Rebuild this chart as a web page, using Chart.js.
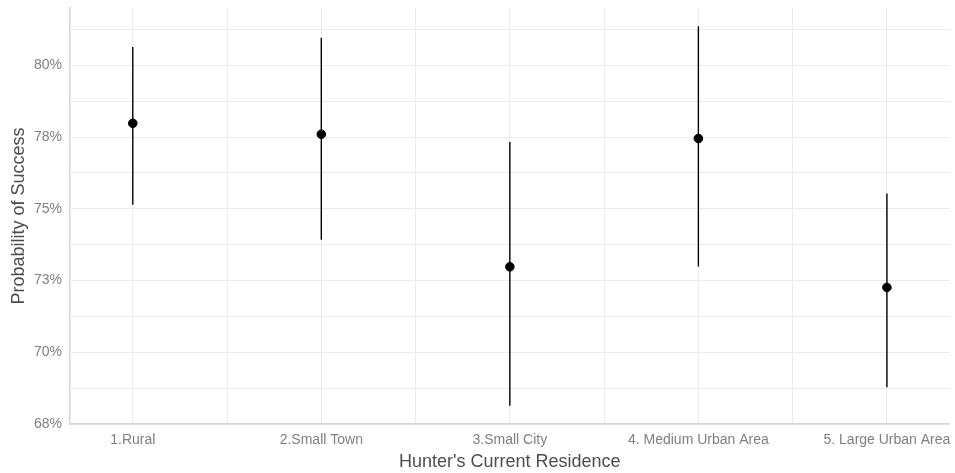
<!DOCTYPE html>
<html>
<head>
<meta charset="utf-8">
<script src="https://cdn.jsdelivr.net/npm/chart.js@4/dist/chart.umd.min.js"></script>
<style>
  html, body { margin: 0; padding: 0; background: #ffffff; }
  #wrap { width: 955px; height: 473px; }
</style>
</head>
<body>
<div id="wrap"><canvas id="chart" width="955" height="473"></canvas></div>
<script>
// Residence categories and estimated probability of success (%)
const categories = ['1.Rural', '2.Small Town', '3.Small City', '4. Medium Urban Area', '5. Large Urban Area'];
const estimate = [77.98, 77.60, 72.98, 77.45, 72.26];
const lower = [75.14, 73.92, 68.14, 72.99, 68.78];
const upper = [80.64, 80.96, 77.33, 81.36, 75.53];

// y tick values: major every 2.5, minor halfway between
const yTicks = [67.5, 68.75, 70, 71.25, 72.5, 73.75, 75, 76.25, 77.5, 78.75, 80, 81.25];
const xTicks = [1, 1.5, 2, 2.5, 3, 3.5, 4, 4.5, 5];

// vertical interval segments, separated by gaps
const intervalData = [];
categories.forEach((c, i) => {
  intervalData.push({ x: i + 1, y: lower[i] });
  intervalData.push({ x: i + 1, y: upper[i] });
  intervalData.push({ x: i + 1, y: null });
});
const pointData = estimate.map((v, i) => ({ x: i + 1, y: v }));

const tickFont = { family: '"Liberation Sans", Arial, sans-serif', size: 14 };
const titleFont = { family: '"Liberation Sans", Arial, sans-serif', size: 18 };

new Chart(document.getElementById('chart'), {
  type: 'scatter',
  data: {
    datasets: [
      {
        type: 'line',
        data: intervalData,
        borderColor: '#000000',
        borderWidth: 1.4,
        pointRadius: 0,
        spanGaps: false,
        fill: false
      },
      {
        type: 'scatter',
        data: pointData,
        backgroundColor: '#000000',
        borderColor: '#000000',
        pointRadius: 4.3,
        pointHoverRadius: 4.3
      }
    ]
  },
  options: {
    responsive: false,
    animation: false,
    layout: { padding: { top: 8, right: 3, left: 0, bottom: 0 } },
    plugins: { legend: { display: false }, tooltip: { enabled: false } },
    scales: {
      x: {
        type: 'linear',
        min: 0.667,
        max: 5.333,
        afterBuildTicks: s => { s.ticks = xTicks.map(v => ({ value: v })); },
        afterFit: s => { s.height = 49; s.paddingLeft = 0; s.paddingRight = 0; },
        ticks: {
          autoSkip: false,
          maxRotation: 0,
          padding: 8,
          color: '#7f7f7f',
          font: tickFont,
          callback: v => Number.isInteger(v) ? categories[v - 1] : ''
        },
        grid: { color: '#ebebeb', lineWidth: 1, drawTicks: false },
        border: { display: true, color: '#d6d6d6', width: 1.5 },
        title: {
          display: true,
          text: "Hunter's Current Residence",
          color: '#4d4d4d',
          font: titleFont,
          padding: { top: 0, bottom: 0 }
        }
      },
      y: {
        type: 'linear',
        min: 67.5,
        max: 82.0,
        afterBuildTicks: s => { s.ticks = yTicks.map(v => ({ value: v })); },
        afterFit: s => { s.width = 70; s.paddingTop = 0; s.paddingBottom = 0; },
        ticks: {
          autoSkip: false,
          padding: 8,
          color: '#7f7f7f',
          font: tickFont,
          callback: v => (Math.abs(v / 2.5 - Math.round(v / 2.5)) < 1e-6) ? Math.round(v) + '%' : ''
        },
        grid: { color: '#ebebeb', lineWidth: 1, drawTicks: false },
        border: { display: true, color: '#d6d6d6', width: 1.5 },
        title: {
          display: true,
          text: 'Probability of Success',
          color: '#4d4d4d',
          font: titleFont,
          padding: { top: 8, bottom: 0 }
        }
      }
    }
  }
});
</script>
</body>
</html>
